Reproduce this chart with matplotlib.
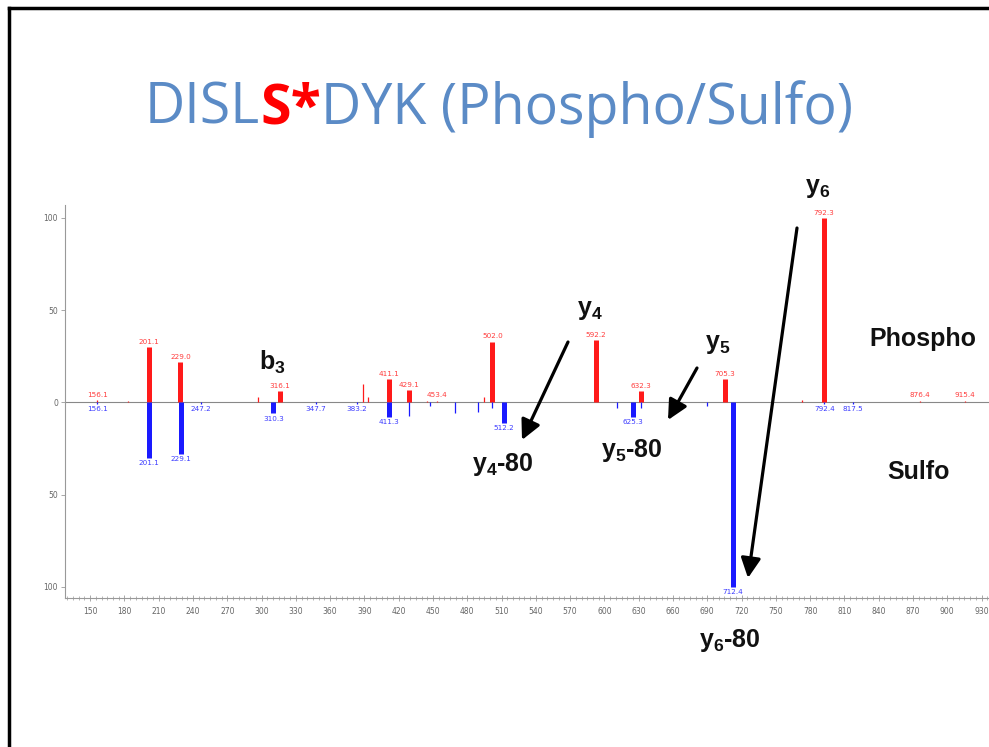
import matplotlib
matplotlib.use("Agg")
import matplotlib.pyplot as plt
from matplotlib.ticker import MultipleLocator, FixedLocator, FuncFormatter
from matplotlib.lines import Line2D

# phospho spectrum (top, red)
phospho_mz = [156.1, 183.0, 201.1, 229.0, 297.0, 316.1, 389.0, 393.0, 411.1, 429.1,
              445.0, 453.4, 495.0, 502.0, 592.2, 632.3, 705.3, 773.0, 792.3, 876.4, 915.4]
phospho_int = [1.5, 1.0, 30, 22, 3.0, 6.0, 10.0, 3.0, 12.5, 6.5,
               1.0, 1.0, 3.0, 33, 34, 6.0, 12.5, 1.5, 100, 1.0, 1.0]
phospho_lab = ["156.1", "", "201.1", "229.0", "", "316.1", "", "", "411.1", "429.1",
               "", "453.4", "", "502.0", "592.2", "632.3", "705.3", "", "792.3", "876.4", "915.4"]

# sulfo spectrum (bottom, blue, mirrored)
sulfo_mz = [156.1, 201.1, 229.1, 247.2, 310.3, 347.7, 383.2, 411.3, 429.1, 447.0,
            469.0, 489.0, 502.0, 512.2, 611.0, 625.3, 632.0, 690.0, 712.4, 792.4, 817.5]
sulfo_int = [-1.0, -30, -28, -1.0, -6.0, -1.0, -1.0, -8.0, -7.5, -2.0,
             -6.0, -5.0, -3.0, -11, -3.0, -8.0, -3.0, -2.0, -100, -1.0, -1.0]
sulfo_lab = ["156.1", "201.1", "229.1", "247.2", "310.3", "347.7", "383.2", "411.3", "", "",
             "", "", "", "512.2", "", "625.3", "", "", "712.4", "792.4", "817.5"]

x_ticks = list(range(150, 931, 30))
y_ticks = [-100, -50, 0, 50, 100]

W, H = 989, 747
fig = plt.figure(figsize=(W / 100, H / 100), dpi=100)
fig.patch.set_facecolor("white")

ax = fig.add_axes([65 / W, 1 - 598 / H, (W - 65) / W, (598 - 205) / H])
ax.set_xlim(128, 936.5)
ax.set_ylim(-106, 107)

RED = "#ff1a1a"
BLUE = "#1a1aff"


def draw_peaks(mz, inten, labels, color, up):
    for m, v, lab in zip(mz, inten, labels):
        lw = 3.6 if (lab and abs(v) >= 5) else 0.9
        ax.vlines(m, 0, v, color=color, lw=lw, zorder=3)
        if lab:
            ax.annotate(lab, (m, v), xytext=(0, 1.5 if up else -1.5),
                        textcoords="offset points", ha="center",
                        va="bottom" if up else "top", fontsize=5.2,
                        color=color, alpha=0.85)


draw_peaks(phospho_mz, phospho_int, phospho_lab, RED, True)
draw_peaks(sulfo_mz, sulfo_int, sulfo_lab, BLUE, False)

ax.axhline(0, color="#888888", lw=0.8, zorder=2)

for s in ["top", "right"]:
    ax.spines[s].set_visible(False)
for s in ["left", "bottom"]:
    ax.spines[s].set_color("#999999")
    ax.spines[s].set_linewidth(0.8)

ax.xaxis.set_major_locator(FixedLocator(x_ticks))
ax.xaxis.set_minor_locator(MultipleLocator(5))
ax.yaxis.set_major_locator(FixedLocator(y_ticks))
ax.yaxis.set_major_formatter(FuncFormatter(lambda v, p: f"{abs(v):.0f}"))
ax.tick_params(axis="x", which="major", direction="inout", length=5, width=0.6,
               color="#999999", labelsize=5.5, labelcolor="#666666", pad=4)
ax.tick_params(axis="x", which="minor", direction="inout", length=2.5, width=0.5,
               color="#999999")
ax.tick_params(axis="y", direction="out", length=3, width=0.6, color="#999999",
               labelsize=5.5, labelcolor="#666666", pad=2)

# title with a coloured residue
fig.canvas.draw()
r = fig.canvas.get_renderer()
parts = [("DISL", "#5b8bc6", "normal"), ("S*", "#ff0000", "bold"),
         ("DYK (Phospho/Sulfo)", "#5b8bc6", "normal")]
x = 145
for txt, col, wt in parts:
    t = fig.text(x / W, 1 - 124 / H, txt, fontsize=40, color=col, fontweight=wt,
                 family="Open Sans", ha="left", va="baseline")
    bb = t.get_window_extent(renderer=r)
    x += bb.width

# ion annotations
plt.rcParams["mathtext.fontset"] = "custom"
plt.rcParams["mathtext.bf"] = "Liberation Sans:bold"
plt.rcParams["mathtext.rm"] = "Liberation Sans"

def note(s, px, py, size=18):
    fig.text(px / W, 1 - py / H, s, fontsize=size, fontweight="bold",
             family="Liberation Sans", ha="center", va="center", color="#111111")

note(r"$\mathbf{b_3}$", 272, 362)
note(r"$\mathbf{y_4}$", 590, 310)
note(r"$\mathbf{y_5}$", 718, 344)
note(r"$\mathbf{y_6}$", 818, 188)
note(r"$\mathbf{y_4}$-80", 503, 465)
note(r"$\mathbf{y_5}$-80", 632, 450)
note(r"$\mathbf{y_6}$-80", 730, 641)
note("Phospho", 923, 339)
note("Sulfo", 919, 472)

arrows = [((568, 342), (522, 440)), ((697, 368), (668, 420)), ((797, 228), (748, 578))]
for (x1, y1), (x2, y2) in arrows:
    fig.add_artist(matplotlib.patches.FancyArrowPatch(
        (x1 / W, 1 - y1 / H), (x2 / W, 1 - y2 / H), transform=fig.transFigure,
        arrowstyle="-|>,head_length=0.6,head_width=0.3", mutation_scale=20,
        lw=2.3, color="black", shrinkA=0, shrinkB=0))

# slide frame (left and top edges)
fig.add_artist(Line2D([9 / W, 9 / W], [0, 1 - 8 / H], color="black", lw=2.5,
                      transform=fig.transFigure))
fig.add_artist(Line2D([9 / W, 1], [1 - 8 / H, 1 - 8 / H], color="black", lw=2.5,
                      transform=fig.transFigure))

fig.savefig("out.png", dpi=100)
